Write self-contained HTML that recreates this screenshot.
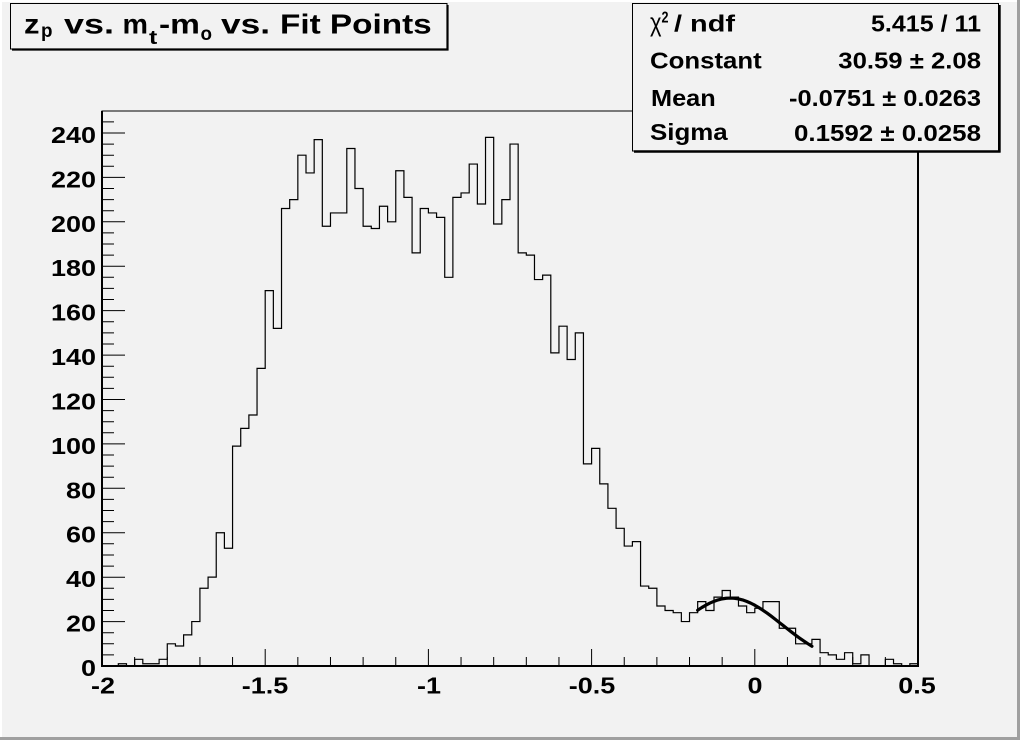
<!DOCTYPE html>
<html><head><meta charset="utf-8"><style>
html,body{margin:0;padding:0;background:#f2f2f2;}
svg{display:block;}
text{font-family:"Liberation Sans",Arial,sans-serif;font-weight:bold;fill:#000;}
</style></head><body>
<svg width="1020" height="740" viewBox="0 0 1020 740" xmlns="http://www.w3.org/2000/svg">
<rect x="0" y="0" width="1020" height="740" fill="#f2f2f2"/>
<!-- canvas border -->
<path d="M0,1 H1017 M1,0 V737" stroke="#ffffff" stroke-width="2" fill="none"/>
<path d="M1018.5,0 V740 M0,738.5 H1020" stroke="#a0a0a0" stroke-width="3" fill="none"/>

<!-- frame -->
<rect x="102" y="111" width="816" height="555" fill="none" stroke="#000" stroke-width="1"/>
<path d="M918,111 V666" stroke="#000" stroke-width="2"/>

<!-- histogram -->
<g transform="translate(102,666) scale(8.16,-2.221)">
<path fill="none" stroke="#000" stroke-width="1.2" vector-effect="non-scaling-stroke" d="M0,0 V0 H1 V0 H2 V1 H3 V0 H4 V3 H5 V1 H6 V1 H7 V3 H8 V10 H9 V9 H10 V14 H11 V20 H12 V35 H13 V40 H14 V60 H15 V53 H16 V99 H17 V107 H18 V113 H19 V134 H20 V169 H21 V152 H22 V206 H23 V210 H24 V230 H25 V222 H26 V237 H27 V198 H28 V204 H29 V204 H30 V233 H31 V215 H32 V198 H33 V197 H34 V207 H35 V200 H36 V223 H37 V211 H38 V186 H39 V206 H40 V204 H41 V202 H42 V175 H43 V211 H44 V213 H45 V226 H46 V208 H47 V238 H48 V199 H49 V210 H50 V235 H51 V186 H52 V185 H53 V174 H54 V176 H55 V141 H56 V153 H57 V138 H58 V150 H59 V91 H60 V98 H61 V82 H62 V71 H63 V62 H64 V54 H65 V56 H66 V36 H67 V35 H68 V27 H69 V25 H70 V24 H71 V20 H72 V24 H73 V29 H74 V25 H75 V31 H76 V34 H77 V31 H78 V27 H79 V24 H80 V26 H81 V29 H82 V29 H83 V17 H84 V17 H85 V10 H86 V10 H87 V12 H88 V6 H89 V5 H90 V3 H91 V6 H92 V1 H93 V5 H94 V0 H95 V0 H96 V3 H97 V1 H98 V0 H99 V1 H100 V0"/>
<polyline fill="none" stroke="#000" stroke-width="3.2" stroke-linejoin="round" stroke-linecap="round" vector-effect="non-scaling-stroke" points="73,25.12 73.5,26.31 74,27.38 74.5,28.33 75,29.12 75.5,29.76 76,30.22 76.5,30.50 77,30.59 77.5,30.49 78,30.21 78.5,29.75 79,29.11 79.5,28.31 80,27.37 80.5,26.29 81,25.10 81.5,23.82 82,22.47 82.5,21.06 83,19.61 83.5,18.16 84,16.71 84.5,15.28 85,13.88 85.5,12.54 86,11.26 86.5,10.04 87,8.90"/>
</g>

<!-- axes -->
<path d="M102,666 H919 M102,667 V111" stroke="#000" stroke-width="2" fill="none"/>
<!-- y ticks -->
<path stroke="#000" stroke-width="1" fill="none" d="
M102,666H125 M102,654.9H114 M102,643.8H114 M102,632.7H114
M102,621.6H125 M102,610.5H114 M102,599.4H114 M102,588.3H114
M102,577.2H125 M102,566.1H114 M102,555H114 M102,543.8H114
M102,532.7H125 M102,521.6H114 M102,510.5H114 M102,499.4H114
M102,488.3H125 M102,477.2H114 M102,466.1H114 M102,455H114
M102,443.9H125 M102,432.8H114 M102,421.7H114 M102,410.6H114
M102,399.5H125 M102,388.4H114 M102,377.3H114 M102,366.2H114
M102,355.1H125 M102,344H114 M102,332.9H114 M102,321.8H114
M102,310.6H125 M102,299.5H114 M102,288.4H114 M102,277.3H114
M102,266.2H125 M102,255.1H114 M102,244H114 M102,232.9H114
M102,221.8H125 M102,210.7H114 M102,199.6H114 M102,188.5H114
M102,177.4H125 M102,166.3H114 M102,155.2H114 M102,144.1H114
M102,133H125 M102,121.9H114"/>
<!-- x ticks -->
<path stroke="#000" stroke-width="1" fill="none" d="
M102,666V649 M265.2,666V649 M428.4,666V649 M591.6,666V649 M754.8,666V649 M918,666V649
M134.64,666V657 M167.28,666V657 M199.92,666V657 M232.56,666V657
M297.84,666V657 M330.48,666V657 M363.12,666V657 M395.76,666V657
M461.04,666V657 M493.68,666V657 M526.32,666V657 M558.96,666V657
M624.24,666V657 M656.88,666V657 M689.52,666V657 M722.16,666V657
M787.44,666V657 M820.08,666V657 M852.72,666V657 M885.36,666V657"/>

<!-- y labels -->
<g font-size="23" text-anchor="end">
<text x="96" y="676" textLength="15" lengthAdjust="spacingAndGlyphs">0</text>
<text x="96" y="631.6" textLength="30" lengthAdjust="spacingAndGlyphs">20</text>
<text x="96" y="587.2" textLength="30" lengthAdjust="spacingAndGlyphs">40</text>
<text x="96" y="542.7" textLength="30" lengthAdjust="spacingAndGlyphs">60</text>
<text x="96" y="498.3" textLength="30" lengthAdjust="spacingAndGlyphs">80</text>
<text x="96" y="453.9" textLength="45" lengthAdjust="spacingAndGlyphs">100</text>
<text x="96" y="409.5" textLength="45" lengthAdjust="spacingAndGlyphs">120</text>
<text x="96" y="365.1" textLength="45" lengthAdjust="spacingAndGlyphs">140</text>
<text x="96" y="320.6" textLength="45" lengthAdjust="spacingAndGlyphs">160</text>
<text x="96" y="276.2" textLength="45" lengthAdjust="spacingAndGlyphs">180</text>
<text x="96" y="231.8" textLength="45" lengthAdjust="spacingAndGlyphs">200</text>
<text x="96" y="187.4" textLength="45" lengthAdjust="spacingAndGlyphs">220</text>
<text x="96" y="143" textLength="45" lengthAdjust="spacingAndGlyphs">240</text>
</g>
<!-- x labels -->
<g font-size="23" text-anchor="middle">
<text x="103" y="693.5" textLength="24" lengthAdjust="spacingAndGlyphs">-2</text>
<text x="265" y="693.5" textLength="46.5" lengthAdjust="spacingAndGlyphs">-1.5</text>
<text x="429" y="693.5" textLength="24" lengthAdjust="spacingAndGlyphs">-1</text>
<text x="592" y="693.5" textLength="46.5" lengthAdjust="spacingAndGlyphs">-0.5</text>
<text x="755" y="693.5" textLength="15" lengthAdjust="spacingAndGlyphs">0</text>
<text x="917" y="693.5" textLength="37.5" lengthAdjust="spacingAndGlyphs">0.5</text>
</g>

<!-- title box -->
<rect x="10.5" y="3.5" width="436.5" height="45.5" fill="#f2f2f2" stroke="#000" stroke-width="1"/>
<path d="M447.5,5 V50.5 M12,49.5 H448.5" stroke="#000" stroke-width="2.2" fill="none"/>
<g font-size="27.5">
<text x="24" y="33.5" textLength="15.5" lengthAdjust="spacingAndGlyphs">z</text>
<text x="41" y="37" font-size="19" textLength="11.5" lengthAdjust="spacingAndGlyphs">p</text>
<text x="64" y="33.5" textLength="50" lengthAdjust="spacingAndGlyphs">vs.</text>
<text x="122.5" y="33.5" textLength="25.5" lengthAdjust="spacingAndGlyphs">m</text>
<text x="149" y="44" font-size="19" textLength="8.3" lengthAdjust="spacingAndGlyphs">t</text>
<text x="159" y="33.5" textLength="41" lengthAdjust="spacingAndGlyphs">-m</text>
<text x="200.5" y="40" font-size="19" textLength="11.5" lengthAdjust="spacingAndGlyphs">o</text>
<text x="221" y="33.5" textLength="49" lengthAdjust="spacingAndGlyphs">vs.</text>
<text x="280" y="33.5" textLength="151.7" lengthAdjust="spacingAndGlyphs">Fit Points</text>
</g>

<!-- stats box -->
<rect x="632.5" y="3.5" width="366" height="147.5" fill="#f2f2f2" stroke="#000" stroke-width="1"/>
<path d="M999.5,5 V152.5 M634,151.5 H1000.5" stroke="#000" stroke-width="2.4" fill="none"/>
<g font-size="23">
<text x="650" y="31" font-size="26" textLength="11.5" lengthAdjust="spacingAndGlyphs" style="font-weight:normal">χ</text>
<text x="661.5" y="22.5" font-size="16" textLength="7" lengthAdjust="spacingAndGlyphs">2</text>
<text x="674" y="31.5" textLength="61" lengthAdjust="spacingAndGlyphs">/ ndf</text>
<text x="981" y="31.5" text-anchor="end" textLength="110" lengthAdjust="spacingAndGlyphs">5.415 / 11</text>
<text x="650" y="68.3" textLength="111.7" lengthAdjust="spacingAndGlyphs">Constant</text>
<text x="981" y="68.3" text-anchor="end" textLength="142.7" lengthAdjust="spacingAndGlyphs">30.59 ± 2.08</text>
<text x="651" y="106" textLength="64.7" lengthAdjust="spacingAndGlyphs">Mean</text>
<text x="981" y="106" text-anchor="end" textLength="192" lengthAdjust="spacingAndGlyphs">-0.0751 ± 0.0263</text>
<text x="650" y="140" textLength="77.7" lengthAdjust="spacingAndGlyphs">Sigma</text>
<text x="981" y="141" text-anchor="end" textLength="187" lengthAdjust="spacingAndGlyphs">0.1592 ± 0.0258</text>
</g>
</svg>
</body></html>
